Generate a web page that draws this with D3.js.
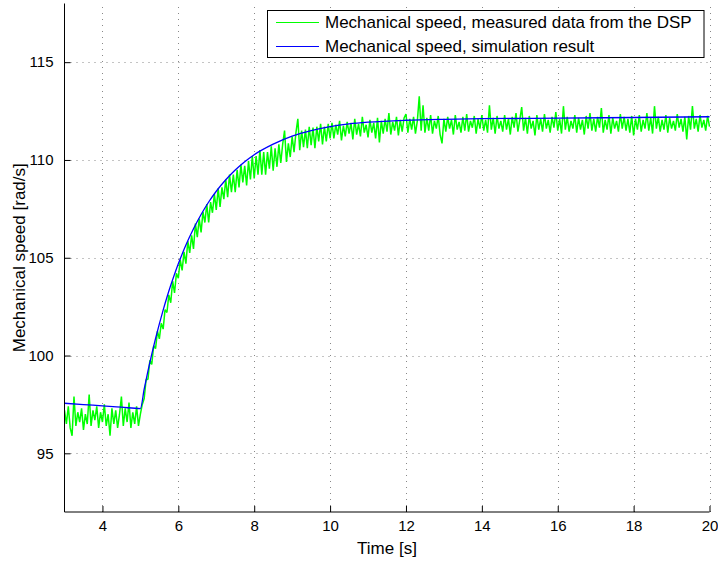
<!DOCTYPE html>
<html>
<head>
<meta charset="utf-8">
<script src="https://cdn.jsdelivr.net/npm/d3@7/dist/d3.min.js"></script>
<style>
  html, body { margin: 0; padding: 0; background: #fff; }
  svg { display: block; font-family: "Liberation Sans", Arial, Helvetica, sans-serif; }
</style>
</head>
<body>
<svg id="chart" width="718" height="561"></svg>
<script>
// ---------- DATA ----------
const xTicks = [4, 6, 8, 10, 12, 14, 16, 18, 20];
const yTicks = [95, 100, 105, 110, 115];
const xDomain = [3, 20];
const yDomain = [92, 118];
const xLabel = "Time [s]";
const yLabel = "Mechanical speed [rad/s]";
const seriesNames = ["Mechanical speed, measured data from the DSP", "Mechanical speed, simulation result"];

// Simulation result (blue): time [s], speed [rad/s]
const simTime  = [3.0, 3.5, 4.0, 4.5, 5.0, 5.1, 5.2, 5.3, 5.4, 5.5, 5.6, 5.7, 5.8, 5.9, 6.0, 6.2, 6.4, 6.6, 6.8, 7.0, 7.25, 7.5, 7.75, 8.0, 8.5, 9.0, 9.5, 10.0, 10.5, 11.0, 12.0, 13.0, 14.0, 16.0, 18.0, 20.0];
const simSpeed = [97.56, 97.49, 97.43, 97.36, 97.29, 98.28, 99.21, 100.07, 100.87, 101.62, 102.32, 102.98, 103.59, 104.16, 104.69, 105.65, 106.48, 107.21, 107.85, 108.40, 108.99, 109.49, 109.91, 110.27, 110.81, 111.22, 111.50, 111.70, 111.84, 111.93, 112.03, 112.08, 112.11, 112.14, 112.17, 112.21];

// Measured data from the DSP (green), sampled every 0.05 s starting at 3.00 s
const measuredStart = 3.0;
const measuredStep = 0.05;
const measuredBefore = [ // 3.00 .. 5.00
  97.2, 96.5, 97.4, 96.3, 95.9, 97.9, 96.4, 97.1, 96.6, 97.3,
  96.2, 97.0, 96.5, 98.0, 96.4, 97.2, 96.7, 97.4, 96.3, 97.1,
  96.6, 97.5, 96.4, 97.0, 95.9, 97.3, 96.5, 97.2, 96.3, 97.0,
  97.9, 96.4, 97.3, 96.6, 97.6, 96.3, 97.1, 96.5, 97.4, 96.4,
  97.0
];
const measuredRise = [ // 5.05 .. 10.00
  97.5, 97.8, 98.75, 98.8, 99.75, 99.55, 100.5, 100.35, 101.25, 100.85,
  101.65, 101.35, 102.35, 102.2, 103.1, 102.7, 103.8, 103.2, 104.2, 103.95,
  104.9, 104.35, 105.3, 104.7, 105.85, 105.25, 106.15, 105.45, 106.75, 106.05,
  107.0, 106.3, 107.35, 106.8, 107.75, 106.8, 107.85, 107.3, 108.25, 107.45,
  108.55, 107.6, 108.6, 108.0, 109.0, 108.1, 109.25, 108.35, 109.25, 108.35,
  109.5, 108.6, 109.75, 108.85, 109.7, 108.7, 109.95, 109.0, 110.2, 109.05,
  110.2, 109.25, 110.5, 109.25, 110.4, 109.25, 110.4, 109.55, 110.7, 109.45,
  110.6, 109.65, 110.8, 109.85, 110.8, 111.5, 109.9, 110.85, 110.15, 111.2,
  110.4, 111.4, 112.1, 110.5, 111.5, 110.65, 111.55, 110.6, 111.7, 110.75,
  111.65, 110.6, 111.7, 110.95, 111.85, 110.8, 111.7, 110.95, 111.85, 111.1
];
const measuredSteady = [ // 10.05 .. 20.00
  111.9, 111.1, 111.8, 111.3, 112.0, 111.0, 111.75, 111.2, 111.95, 111.35,
  111.9, 111.05, 112.1, 111.3, 111.85, 111.2, 112.2, 111.4, 111.8, 111.15,
  112.05, 111.4, 111.9, 111.1, 112.15, 110.9, 112.0, 111.35, 112.1, 111.45,
  112.4, 111.3, 111.95, 111.5, 112.2, 111.25, 112.05, 111.45, 112.15, 112.35,
  111.4, 112.1, 111.55, 112.2, 111.35, 112.0, 113.25, 111.5, 112.8, 111.4,
  112.15, 111.5, 112.3, 111.35, 112.0, 111.6, 112.25, 111.3, 110.85, 112.1,
  111.45, 112.2, 111.6, 112.05, 111.3, 112.3, 111.55, 111.95, 111.4, 112.2,
  111.5, 112.35, 111.45, 112.0, 111.65, 112.25, 111.35, 112.1, 111.6, 112.3,
  111.5, 112.05, 111.4, 112.8, 111.55, 112.15, 111.35, 112.25, 111.6, 112.0,
  111.45, 112.3, 111.55, 112.1, 111.3, 112.2, 111.65, 112.4, 111.45, 112.05,
  112.7, 111.5, 112.15, 111.35, 112.25, 111.6, 112.0, 111.25, 112.3, 111.55,
  112.1, 111.45, 112.35, 111.6, 112.05, 111.4, 112.2, 111.65, 112.45, 111.5,
  112.1, 111.35, 112.75, 111.55, 112.2, 111.45, 112.0, 111.6, 112.3, 111.4,
  112.15, 111.55, 112.05, 111.3, 112.25, 111.6, 112.4, 111.5, 112.1, 111.45,
  112.2, 111.65, 112.65, 111.4, 112.05, 111.55, 112.3, 111.35, 112.15, 111.6,
  112.0, 111.45, 112.35, 111.6, 112.2, 111.5, 112.1, 111.4, 112.25, 111.25,
  112.1, 111.55, 112.3, 111.45, 112.05, 111.6, 112.4, 111.5, 112.15, 111.35,
  112.75, 111.6, 112.2, 111.45, 112.05, 111.55, 112.3, 111.4, 112.15, 111.6,
  112.0, 111.5, 112.35, 111.65, 112.1, 111.45, 112.2, 111.05, 112.25, 111.55,
  112.75, 111.6, 112.1, 111.45, 112.3, 111.65, 112.05, 111.5, 112.25, 111.7
];

// ---------- CHART ----------
const measured = measuredBefore.concat(measuredRise, measuredSteady)
  .map((v, i) => ({ t: measuredStart + i * measuredStep, v }));
const sim = simTime.map((t, i) => ({ t, v: simSpeed[i] }));

const svg = d3.select("#chart");
const L = 64.5, R = 709.5, T = 3.5, B = 512;
const x = d3.scaleLinear().domain(xDomain).range([L, R]);
const y = d3.scaleLinear().domain(yDomain).range([B, T]);
const font = '"Liberation Sans", Arial, Helvetica, sans-serif';

// grid
const grid = svg.append("g").attr("stroke", "#888").attr("stroke-width", 1).attr("stroke-dasharray", "1,5");
grid.selectAll("line.v").data(xTicks).join("line")
  .attr("x1", d => Math.round(x(d)) + 0.5).attr("x2", d => Math.round(x(d)) + 0.5)
  .attr("y1", B).attr("y2", T);
grid.selectAll("line.h").data(yTicks).join("line")
  .attr("y1", d => Math.round(y(d)) + 0.5).attr("y2", d => Math.round(y(d)) + 0.5)
  .attr("x1", L).attr("x2", R);

// data lines
const clip = svg.append("clipPath").attr("id", "clip").append("rect")
  .attr("x", L).attr("y", 0).attr("width", R - L + 1).attr("height", B);
const line = d3.line().x(d => x(d.t)).y(d => y(d.v));
svg.append("path").datum(measured).attr("d", line)
  .attr("fill", "none").attr("stroke", "#00ff00").attr("stroke-width", 1.5)
  .attr("stroke-linejoin", "miter").attr("stroke-miterlimit", 2)
  .attr("clip-path", "url(#clip)");
svg.append("path").datum(sim).attr("d", line.curve(d3.curveMonotoneX))
  .attr("fill", "none").attr("stroke", "#0000ff").attr("stroke-width", 1.3)
  .attr("clip-path", "url(#clip)");

// axes
const xAxis = d3.axisBottom(x).tickValues(xTicks).tickSizeInner(-6).tickSizeOuter(0).tickPadding(12);
const gx = svg.append("g").attr("transform", `translate(0,${B})`).call(xAxis);
gx.select(".domain").attr("stroke", "#000").attr("d", `M${L},0H${R}`);
gx.selectAll(".tick line").attr("stroke", "#000");
gx.selectAll(".tick text").attr("font-size", 15).attr("font-family", font).attr("fill", "#000")
  .attr("dy", null).attr("y", 19);

const yAxis = d3.axisLeft(y).tickValues(yTicks).tickSizeInner(-6).tickSizeOuter(0).tickPadding(11);
const gy = svg.append("g").attr("transform", `translate(${L},0)`).call(yAxis);
gy.select(".domain").attr("stroke", "#000").attr("d", `M0,${B}V${T}`);
gy.selectAll(".tick line").attr("stroke", "#000");
gy.selectAll(".tick text").attr("font-size", 15).attr("font-family", font).attr("fill", "#000");

// axis labels
svg.append("text").attr("x", (L + R) / 2).attr("y", 554).attr("text-anchor", "middle")
  .attr("font-size", 17).attr("font-family", font).text(xLabel);
svg.append("text").attr("transform", `translate(25,${(T + B) / 2}) rotate(-90)`)
  .attr("text-anchor", "middle").attr("font-size", 17).attr("font-family", font).text(yLabel);

// legend
const lg = svg.append("g");
lg.append("rect").attr("x", 267.5).attr("y", 10.5).attr("width", 436.5).attr("height", 47)
  .attr("fill", "#fff").attr("stroke", "#000").attr("stroke-width", 1);
const legendColors = ["#00ff00", "#0000ff"];
const rowY = [22, 46];
seriesNames.forEach((name, i) => {
  lg.append("line").attr("x1", 276).attr("x2", 319).attr("y1", rowY[i] + 0.5).attr("y2", rowY[i] + 0.5)
    .attr("stroke", legendColors[i]).attr("stroke-width", 1);
  lg.append("text").attr("x", 325).attr("y", rowY[i] + 6).attr("font-size", 17)
    .attr("font-family", font).text(name);
});
</script>
</body>
</html>
